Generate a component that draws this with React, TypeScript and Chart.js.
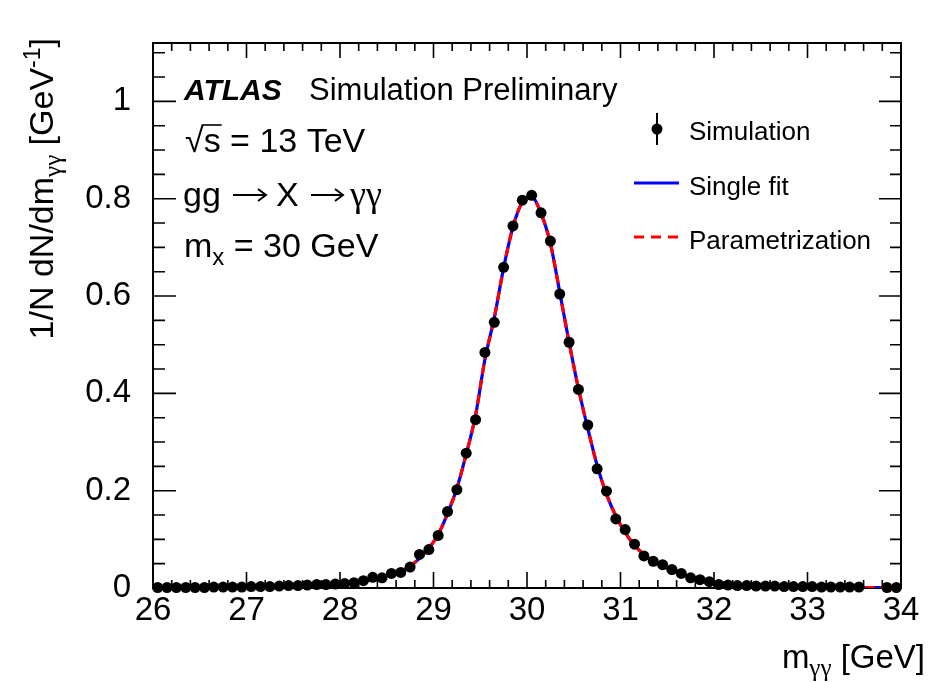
import React, { useEffect, useRef } from "react";
import { Chart, registerables } from "chart.js";

Chart.register(...registerables);

// ---------------- data ----------------
const massCenters = [
  26.05, 26.15, 26.25, 26.35, 26.45, 26.55, 26.65, 26.75, 26.85, 26.95,
  27.05, 27.15, 27.25, 27.35, 27.45, 27.55, 27.65, 27.75, 27.85, 27.95,
  28.05, 28.15, 28.25, 28.35, 28.45, 28.55, 28.65, 28.75, 28.85, 28.95,
  29.05, 29.15, 29.25, 29.35, 29.45, 29.55, 29.65, 29.75, 29.85, 29.95,
  30.05, 30.15, 30.25, 30.35, 30.45, 30.55, 30.65, 30.75, 30.85, 30.95,
  31.05, 31.15, 31.25, 31.35, 31.45, 31.55, 31.65, 31.75, 31.85, 31.95,
  32.05, 32.15, 32.25, 32.35, 32.45, 32.55, 32.65, 32.75, 32.85, 32.95,
  33.05, 33.15, 33.25, 33.35, 33.45, 33.55, 33.65, 33.75, 33.85, 33.95,
];

const simulationValues = [
  0.001, 0.001, 0.001, 0.001, 0.001, 0.001, 0.002, 0.002, 0.002, 0.002,
  0.003, 0.003, 0.003, 0.004, 0.005, 0.005, 0.006, 0.007, 0.007, 0.008,
  0.009, 0.011, 0.015, 0.022, 0.021, 0.030, 0.032, 0.043, 0.069, 0.079,
  0.108, 0.157, 0.202, 0.277, 0.346, 0.484, 0.546, 0.659, 0.744, 0.797,
  0.807, 0.771, 0.713, 0.604, 0.505, 0.408, 0.335, 0.245, 0.199, 0.142,
  0.120, 0.090, 0.066, 0.055, 0.048, 0.038, 0.030, 0.021, 0.017, 0.013,
  0.007, 0.006, 0.005, 0.005, 0.004, 0.004, 0.004, 0.003, 0.003, 0.003,
  0.003, 0.002, 0.002, 0.002, 0.002, 0.002, null, null, 0.001, 0.001,
];

const singleFitValues = [
  0.001, 0.001, 0.001, 0.001, 0.001, 0.001, 0.002, 0.002, 0.002, 0.002,
  0.003, 0.003, 0.003, 0.004, 0.004, 0.005, 0.006, 0.006, 0.007, 0.008,
  0.009, 0.011, 0.014, 0.018, 0.023, 0.028, 0.035, 0.045, 0.061, 0.082,
  0.110, 0.153, 0.205, 0.275, 0.355, 0.470, 0.555, 0.658, 0.742, 0.793,
  0.803, 0.770, 0.708, 0.608, 0.505, 0.410, 0.328, 0.252, 0.193, 0.148,
  0.114, 0.088, 0.069, 0.055, 0.045, 0.036, 0.029, 0.023, 0.018, 0.014,
  0.011, 0.009, 0.007, 0.006, 0.005, 0.004, 0.004, 0.003, 0.003, 0.003,
  0.002, 0.002, 0.002, 0.002, 0.002, 0.001, 0.001, 0.001, 0.001, 0.001,
];

const parametrizationValues = [
  0.001, 0.001, 0.001, 0.001, 0.001, 0.001, 0.002, 0.002, 0.002, 0.002,
  0.003, 0.003, 0.003, 0.004, 0.004, 0.005, 0.006, 0.006, 0.007, 0.008,
  0.009, 0.011, 0.014, 0.018, 0.023, 0.028, 0.035, 0.045, 0.061, 0.082,
  0.110, 0.153, 0.205, 0.275, 0.355, 0.470, 0.555, 0.658, 0.742, 0.793,
  0.803, 0.770, 0.708, 0.608, 0.505, 0.410, 0.328, 0.252, 0.193, 0.148,
  0.114, 0.088, 0.069, 0.055, 0.045, 0.036, 0.029, 0.023, 0.018, 0.014,
  0.011, 0.009, 0.007, 0.006, 0.005, 0.004, 0.004, 0.003, 0.003, 0.003,
  0.002, 0.002, 0.002, 0.002, 0.002, 0.001, 0.001, 0.001, 0.001, 0.001,
];

const xTickValues = [26, 27, 28, 29, 30, 31, 32, 33, 34];
const xTickLabels = ["26", "27", "28", "29", "30", "31", "32", "33", "34"];
const yTickValues = [0, 0.2, 0.4, 0.6, 0.8, 1];
const yTickLabels = ["0", "0.2", "0.4", "0.6", "0.8", "1"];

const legendLabels = ["Simulation", "Single fit", "Parametrization"];

// ---------------- styling ----------------
const FONT = '"Liberation Sans", Arial, Helvetica, sans-serif';
const GREEK = '"Liberation Serif", "DejaVu Serif", serif';
const W = 929;
const H = 683;

type Seg = { t: string; s?: number; dy?: number; f?: string; fam?: string };

function segFont(sg: Seg, size: number) {
  return `${sg.f || ""} ${Math.round(size * (sg.s || 1))}px ${sg.fam || FONT}`;
}

function drawRich(ctx: CanvasRenderingContext2D, x: number, y: number, segs: Seg[], size: number, align: "left" | "right") {
  const widths: number[] = [];
  let total = 0;
  for (const sg of segs) {
    ctx.font = segFont(sg, size);
    const w = ctx.measureText(sg.t).width;
    widths.push(w);
    total += w;
  }
  let cx = align === "right" ? x - total : x;
  ctx.textAlign = "left";
  ctx.textBaseline = "alphabetic";
  segs.forEach((sg, i) => {
    ctx.font = segFont(sg, size);
    ctx.fillText(sg.t, cx, y + (sg.dy || 0));
    cx += widths[i];
  });
  return total;
}

function drawArrow(ctx: CanvasRenderingContext2D, x0: number, x1: number, y: number) {
  ctx.save();
  ctx.strokeStyle = "#000";
  ctx.lineWidth = 2;
  ctx.beginPath();
  ctx.moveTo(x0, y);
  ctx.lineTo(x1, y);
  ctx.moveTo(x1 - 8, y - 6);
  ctx.lineTo(x1, y);
  ctx.lineTo(x1 - 8, y + 6);
  ctx.stroke();
  ctx.restore();
}

const framePlugin = {
  id: "rootFrame",
  beforeDatasetsDraw(chart: any) {
    const { ctx, chartArea } = chart;
    const xs = chart.scales.x;
    const ys = chart.scales.y;
    const { left, right, top, bottom } = chartArea;
    ctx.save();
    ctx.strokeStyle = "#000";
    ctx.lineWidth = 2;
    ctx.strokeRect(left, top, right - left, bottom - top);
    ctx.lineWidth = 1.6;
    ctx.beginPath();
    for (let i = 0; i <= 40; i++) {
      const v = 26 + i * 0.2;
      const px = xs.getPixelForValue(v);
      const major = i % 5 === 0;
      const lb = major ? 16 : 8;
      const lt = major ? 15 : 8;
      ctx.moveTo(px, bottom);
      ctx.lineTo(px, bottom - lb);
      ctx.moveTo(px, top);
      ctx.lineTo(px, top + lt);
    }
    for (let i = 0; i <= 22; i++) {
      const v = i * 0.05;
      const py = ys.getPixelForValue(v);
      if (py < top - 0.5) continue;
      const major = i % 4 === 0;
      const ll = major ? 23 : 12;
      const lr = major ? 22 : 11;
      ctx.moveTo(left, py);
      ctx.lineTo(left + ll, py);
      ctx.moveTo(right, py);
      ctx.lineTo(right - lr, py);
    }
    ctx.stroke();
    ctx.restore();
  },
  afterDraw(chart: any) {
    const { ctx } = chart;
    ctx.save();
    ctx.fillStyle = "#000";

    // ATLAS label
    ctx.textBaseline = "alphabetic";
    ctx.textAlign = "left";
    ctx.font = `italic bold 30px ${FONT}`;
    ctx.fillText("ATLAS", 184, 100);
    ctx.font = `31px ${FONT}`;
    ctx.fillText("Simulation Preliminary", 309, 100);

    // sqrt(s) line
    ctx.font = `34px ${FONT}`;
    const wRoot = ctx.measureText("\u221A").width;
    ctx.fillText("\u221A", 185, 152);
    const wS = ctx.measureText("s").width;
    ctx.fillText("s", 185 + wRoot, 152);
    ctx.lineWidth = 1.6;
    ctx.strokeStyle = "#000";
    ctx.beginPath();
    ctx.moveTo(185 + wRoot - 2, 152 - 27);
    ctx.lineTo(185 + wRoot + wS + 1, 152 - 27);
    ctx.stroke();
    ctx.fillText(" = 13 TeV", 185 + wRoot + wS, 152);

    // gg -> X -> yy
    ctx.font = `34px ${FONT}`;
    ctx.fillText("gg", 183, 206);
    drawArrow(ctx, 233, 266, 195);
    ctx.fillText("X", 276, 206);
    drawArrow(ctx, 311, 343, 195);
    ctx.font = `36px ${GREEK}`;
    ctx.fillText("\u03B3\u03B3", 350, 206);

    drawRich(ctx, 184, 257, [
      { t: "m" },
      { t: "x", s: 0.7, dy: 8 },
      { t: " = 30 GeV" },
    ], 34, "left");

    // legend
    ctx.font = `26px ${FONT}`;
    ctx.fillText(legendLabels[0], 689, 140);
    ctx.fillText(legendLabels[1], 689, 195);
    ctx.fillText(legendLabels[2], 689, 249);
    ctx.lineWidth = 2;
    ctx.beginPath();
    ctx.moveTo(657, 113);
    ctx.lineTo(657, 145);
    ctx.stroke();
    ctx.beginPath();
    ctx.arc(657, 129, 5.5, 0, Math.PI * 2);
    ctx.fill();
    ctx.strokeStyle = "#0000ff";
    ctx.lineWidth = 3.2;
    ctx.beginPath();
    ctx.moveTo(634, 183);
    ctx.lineTo(679, 183);
    ctx.stroke();
    ctx.strokeStyle = "#ff0000";
    ctx.setLineDash([10, 7]);
    ctx.beginPath();
    ctx.moveTo(634, 237);
    ctx.lineTo(680, 237);
    ctx.stroke();
    ctx.setLineDash([]);

    // x title
    ctx.fillStyle = "#000";
    drawRich(ctx, 925, 668, [
      { t: "m" },
      { t: "\u03B3\u03B3", s: 0.75, dy: 8, fam: GREEK },
      { t: " [GeV]" },
    ], 33, "right");

    // y title
    ctx.save();
    ctx.translate(53, 38);
    ctx.rotate(-Math.PI / 2);
    drawRich(ctx, 0, 0, [
      { t: "1/N dN/dm" },
      { t: "\u03B3\u03B3", s: 0.75, dy: 8, fam: GREEK },
      { t: " [GeV" },
      { t: "-1", s: 0.7, dy: -13 },
      { t: "]" },
    ], 33.5, "right");
    ctx.restore();

    ctx.restore();
  },
};

export default function App() {
  const canvasRef = useRef<HTMLCanvasElement | null>(null);

  useEffect(() => {
    const canvas = canvasRef.current;
    if (!canvas) return;

    const simPoints = massCenters
      .map((x, i) => ({ x, y: simulationValues[i] }))
      .filter((p) => p.y !== null);
    const fitPoints = massCenters.map((x, i) => ({ x, y: singleFitValues[i] }));
    const parPoints = massCenters.map((x, i) => ({ x, y: parametrizationValues[i] }));

    const chart = new Chart(canvas, {
      type: "scatter",
      data: {
        datasets: [
          {
            type: "scatter",
            label: legendLabels[0],
            data: simPoints as any,
            pointRadius: 5.5,
            pointBackgroundColor: "#000",
            pointBorderWidth: 0,
            backgroundColor: "#000",
            order: 0,
            clip: false as any,
          },
          {
            type: "line",
            label: legendLabels[2],
            data: parPoints,
            borderColor: "#ff0000",
            borderWidth: 3.2,
            borderDash: [9, 6],
            pointRadius: 0,
            fill: false,
            cubicInterpolationMode: "monotone",
            order: 1,
          } as any,
          {
            type: "line",
            label: legendLabels[1],
            data: fitPoints,
            borderColor: "#0000ff",
            borderWidth: 3.2,
            pointRadius: 0,
            fill: false,
            cubicInterpolationMode: "monotone",
            order: 2,
          } as any,
        ],
      },
      options: {
        animation: false,
        responsive: false,
        devicePixelRatio: 1,
        layout: { padding: { top: 43, right: 28, left: 0, bottom: 0 } },
        plugins: {
          legend: { display: false },
          tooltip: { enabled: false },
        },
        scales: {
          x: {
            type: "linear",
            min: 26,
            max: 34,
            afterBuildTicks: (s: any) => {
              s.ticks = xTickValues.map((v) => ({ value: v }));
            },
            afterFit: (s: any) => {
              s.height = 95;
            },
            grid: { display: false },
            border: { display: false },
            ticks: {
              autoSkip: false,
              maxRotation: 0,
              padding: 2,
              color: "#000",
              font: { size: 33, family: FONT, lineHeight: 0.8 },
              callback: (v: any) => {
                const i = xTickValues.indexOf(Number(v));
                return i >= 0 ? xTickLabels[i] : "";
              },
            },
          },
          y: {
            type: "linear",
            min: 0,
            max: 1.12,
            afterBuildTicks: (s: any) => {
              s.ticks = yTickValues.map((v) => ({ value: v }));
            },
            afterFit: (s: any) => {
              s.width = 153;
            },
            grid: { display: false },
            border: { display: false },
            ticks: {
              autoSkip: false,
              padding: 14,
              color: "#000",
              font: { size: 33, family: FONT },
              callback: (v: any) => {
                const i = yTickValues.findIndex((t) => Math.abs(t - Number(v)) < 1e-9);
                return i >= 0 ? yTickLabels[i] : "";
              },
            },
          },
        },
      },
      plugins: [framePlugin],
    });

    return () => chart.destroy();
  }, []);

  return (
    <div style={{ position: "fixed", left: 0, top: 0, width: W, height: H, background: "#fff" }}>
      <canvas ref={canvasRef} width={W} height={H} style={{ display: "block", width: W, height: H }} />
    </div>
  );
}
